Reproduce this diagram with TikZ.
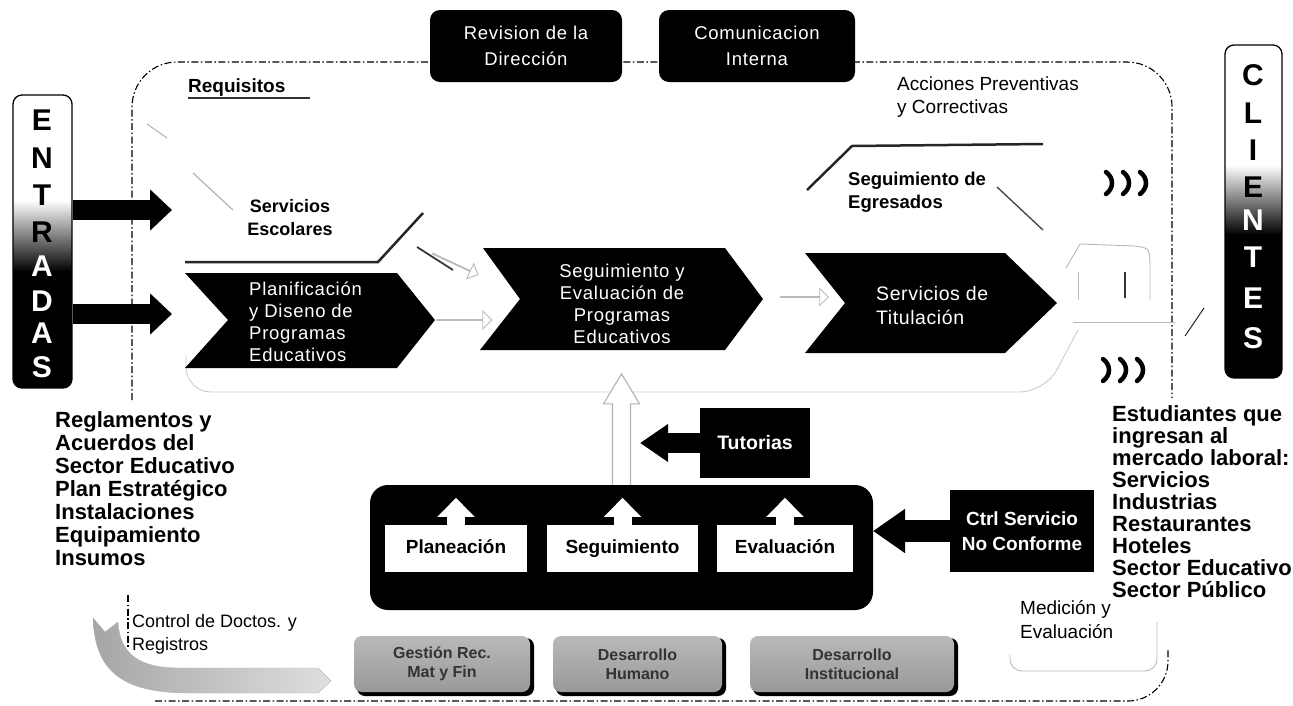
\documentclass[tikz,border=0pt]{standalone}
\usepackage{fontspec}
\setmainfont{Liberation Sans}
\usetikzlibrary{arrows.meta,shapes.arrows}
\begin{document}
\begin{tikzpicture}[x=1pt,y=-1pt,
  frame/.style={line width=1.1pt, dash pattern=on 7pt off 2.5pt on 1.5pt off 2.5pt},
  chev/.style={fill=black},
  wtxt/.style={text=white, inner sep=0pt, font=\fontsize{18.5}{22}\selectfont\addfontfeature{LetterSpace=4}},
  btxt/.style={inner sep=0pt, align=left, font=\bfseries\fontsize{22}{23}\selectfont},
  rtxt/.style={inner sep=0pt, align=left, font=\fontsize{19}{23.5}\selectfont},
  blkbox/.style={fill=black, rounded corners=10, text=white, align=center, inner sep=0pt,
     font=\fontsize{18.5}{26}\selectfont\addfontfeature{LetterSpace=4}},
  sqbox/.style={fill=black, text=white, align=center, inner sep=0pt},
  wbox/.style={fill=white, inner sep=0pt, text height=14pt, text depth=4pt, font=\bfseries\fontsize{19}{20}\selectfont},
  graybox/.style={top color=gray!55, bottom color=gray!80, rounded corners=8, inner sep=0pt,
     text=black!80, align=center, font=\bfseries\fontsize{16}{19}\selectfont},
  letter/.style={inner sep=0pt, font=\bfseries\fontsize{30}{30}\selectfont},
  fatarrow/.style={line width=20pt, -{Triangle[width=40pt,length=22pt]}},
  upw/.style={white, line width=18pt, -{Triangle[width=36pt,length=19pt]}},
  hollow/.style={single arrow, draw=gray!55, line width=0.9pt, fill=white, inner sep=0pt,
     single arrow head extend=8pt},
  faint/.style={draw=gray!55, line width=0.9pt},
  darkline/.style={line width=2.5pt, black!85},
  paren/.style={line width=4.5pt, line cap=round}
]
\useasboundingbox (0,0) rectangle (1293,705);

% ---- main dash-dot frame
\draw[frame, rounded corners=45] (132,400) -- (132,62) -- (1172,62) -- (1172,398);
\draw[frame] (128,595) -- (128,648);
\draw[frame, rounded corners=40] (155,701) -- (1168,701) -- (1168,648);

% ---- faint background shape under chevrons
\draw[faint, gray!40, rounded corners=25] (186,355) -- (186,392) -- (1045,392) -- (1078,330);

% ---- ENTRADAS
\begin{scope}
  \clip[rounded corners=9] (13,95) rectangle (72,388);
  \fill[white] (13,95) rectangle (72,388);
  \shade[top color=white, bottom color=black] (13,200) rectangle (72,272);
  \fill[black] (13,271) rectangle (72,388);
\end{scope}
\node[draw, rounded corners=9, line width=1.3pt, minimum width=59pt, minimum height=293pt, inner sep=0pt] (entr) at (42.5,241.5) {};
\foreach \l/\y/\c [count=\i] in {E/120/black,N/158/black,T/195/black,R/232/black,A/266/white,D/301/white,A/333/white,S/367/white}
  \node[letter, text=\c] (en\i) at (42,\y) {\l};

% ---- CLIENTES
\begin{scope}
  \clip[rounded corners=9] (1225,45) rectangle (1282,378);
  \fill[white] (1225,45) rectangle (1282,378);
  \shade[top color=white, bottom color=black] (1225,165) rectangle (1282,235);
  \fill[black] (1225,234) rectangle (1282,378);
\end{scope}
\node[draw, rounded corners=9, line width=1.3pt, minimum width=57pt, minimum height=333pt, inner sep=0pt] (cli) at (1253.5,211.5) {};
\foreach \l/\y/\c [count=\i] in {C/75/black,L/113/black,I/150/black,E/187/black,N/220/white,T/257/white,E/298/white,S/338/white}
  \node[letter, text=\c] (cl\i) at (1253,\y) {\l};

% ---- entry arrows
\coordinate (ea1) at (172,210);
\coordinate (ea2) at (172,314);
\draw[fatarrow] (entr.east |- ea1) -- (ea1);
\draw[fatarrow] (entr.east |- ea2) -- (ea2);

% ---- top boxes
\node[blkbox, minimum width=192pt, minimum height=72pt] (rev) at (526,46) {Revision de la\\Dirección};
\node[blkbox, minimum width=196pt, minimum height=72pt] (com) at (757,46) {Comunicacion\\Interna};

% ---- labels in frame
\node[inner sep=1pt, anchor=west, font=\bfseries\fontsize{19}{20}\selectfont] (req) at (187,88) {Requisitos};
\draw[line width=1.6pt, black!80] (188,98) -- (310,98);
\node[rtxt, anchor=west] (acc) at (897,97) {Acciones Preventivas\\y Correctivas};
\node[btxt, align=center, font=\bfseries\fontsize{18}{23}\selectfont] (ses) at (290,218) {Servicios\\Escolares};
\node[btxt, anchor=west, font=\bfseries\fontsize{18.5}{23}\selectfont] (egr) at (848,192) {Seguimiento de\\Egresados};

% ---- decorative strokes
\draw[darkline] (185,262) -- (378,262) -- (423,213);
\draw[gray!60, line width=1.2pt] (193,173) -- (233,210);
\draw[gray!60, line width=1pt] (147,124) -- (167,138);
\draw[darkline] (807,190) -- (852,146) -- (1043,144);
\draw[gray!50!black, line width=1.3pt] (997,187) -- (1043,230);

% ---- chevrons
\fill[chev] (185,273) -- (397,273) -- (435,320) -- (397,368) -- (185,368) -- (228,320) -- cycle;
\node[wtxt, anchor=west, align=left] (plan) at (249,322) {Planificación\\y Diseno de\\Programas\\Educativos};
\fill[chev] (483,248) -- (725,248) -- (763,299) -- (725,350) -- (480,350) -- (520,299) -- cycle;
\node[wtxt, align=center] (segev) at (622,304) {Seguimiento y\\Evaluación de\\Programas\\Educativos};
\fill[chev] (805,253) -- (1005,253) -- (1057,303) -- (1005,353) -- (805,353) -- (845,303) -- cycle;
\node[wtxt, anchor=west, align=left, font=\fontsize{19.5}{24}\selectfont\addfontfeature{LetterSpace=3}] (tit) at (876,306) {Servicios de\\Titulación};

% ---- hollow arrows between chevrons
\draw[gray!45!black, line width=1.8pt] (417,247) -- (453,270);
\node[hollow, rotate=-25, minimum height=50pt, minimum width=16pt] (ha1) at (455,264) {};
\node[hollow, minimum height=55pt, minimum width=18pt] (ha2) at (464,320) {};
\node[hollow, minimum height=48pt, minimum width=16pt] (ha3) at (804,297) {};

% ---- hook shape near clientes
\draw[faint] (1066,268) -- (1080,244) -- (1135,246) .. controls (1150,248) .. (1150,272) -- (1150,300);
\draw[faint] (1078,272) -- (1078,300);
\draw[gray!40!black, line width=1.3pt] (1125,272) -- (1125,298);
\draw[faint] (1073,322) -- (1175,322);
\draw[gray!30!black, line width=1pt] (1185,336) -- (1204,308);

% ---- chevrons )))
\foreach \x in {1106,1123,1140} {
  \draw[paren] (\x,172) .. controls (\x+8,178) and (\x+8,188) .. (\x,194);
  \draw[paren] (\x-3,359) .. controls (\x+5,365) and (\x+5,375) .. (\x-3,381);
}

% ---- container
\node[fill=black, rounded corners=18, minimum width=503pt, minimum height=125pt, inner sep=0pt] (cont) at (621.5,547.5) {};
\node[wbox, minimum width=142pt, minimum height=47pt] (pla) at (456,548.5) {Planeación};
\node[wbox, minimum width=151pt, minimum height=47pt] (seg) at (622.5,548.5) {Seguimiento};
\node[wbox, minimum width=136pt, minimum height=47pt] (eva) at (785,548.5) {Evaluación};
\draw[upw] (pla.north) -- ++(0,-27);
\draw[upw] (seg.north) -- ++(0,-27);
\draw[upw] (eva.north) -- ++(0,-27);

% ---- hollow vertical arrow to middle chevron
\draw[fill=white, draw=gray!60, line width=1.1pt] (cont.north) ++(-9,0) -- ++(0,-81) -- ++(-9,0) -- ++(18,-30) -- ++(18,30) -- ++(-9,0) -- ++(0,81);

% ---- Tutorias
\node[sqbox, minimum width=110pt, minimum height=70pt, font=\bfseries\fontsize{19.5}{22}\selectfont] (tut) at (755,443) {Tutorias};
\coordinate (tt) at (640,443);
\draw[line width=20pt, -{Triangle[width=36pt,length=28pt]}] (tut.west) -- (tt);

% ---- Ctrl Servicio No Conforme
\node[sqbox, minimum width=144pt, minimum height=82pt, font=\bfseries\fontsize{19}{25}\selectfont] (ctrl) at (1022,531) {Ctrl Servicio\\No Conforme};
\coordinate (ct) at (873,531);
\draw[line width=22pt, -{Triangle[width=42pt,length=32pt]}] (ctrl.west) -- (ct);

% ---- bottom gray boxes
\fill[black, rounded corners=8] (357,638) rectangle (534,696);
\node[graybox, minimum width=176pt, minimum height=56pt] (gest) at (442,664) {Gestión Rec.\\Mat y Fin};
\fill[black, rounded corners=8] (556,638) rectangle (726,696);
\node[graybox, minimum width=169pt, minimum height=56pt] (dh) at (637.5,664) {Desarrollo\\Humano};
\fill[black, rounded corners=8] (753,638) rectangle (958,696);
\node[graybox, minimum width=204pt, minimum height=56pt] (di) at (852,664) {Desarrollo\\Institucional};

% ---- bottom-left swoosh
\shade[left color=gray!70, right color=gray!25, draw=gray!60] (93,618) -- (105,632) -- (118,622)
   .. controls (120,655) and (140,668) .. (180,668) -- (318,668) -- (331,681) -- (318,693) -- (190,693)
   .. controls (120,693) and (95,670) .. cycle;

% ---- Medición outline
\draw[faint, rounded corners=12] (1010,655) -- (1010,671) -- (1157,671) -- (1157,622);

% ---- text blocks
\node[btxt, anchor=west] (regl) at (55,489) {Reglamentos y\\Acuerdos del\\Sector Educativo\\Plan Estratégico\\Instalaciones\\Equipamiento\\Insumos};
\node[btxt, anchor=west, font=\bfseries\fontsize{22}{22}\selectfont] (est) at (1112,502) {Estudiantes que\\ingresan al\\mercado laboral:\\Servicios\\Industrias\\Restaurantes\\Hoteles\\Sector Educativo\\Sector Público};
\node[rtxt, anchor=west, font=\fontsize{18}{23}\selectfont] (ctl) at (132,634) {Control de Doctos. y\\Registros};
\node[rtxt, anchor=west, font=\fontsize{19}{24}\selectfont] (med) at (1020,620) {Medición y\\Evaluación};
\end{tikzpicture}
\end{document}
